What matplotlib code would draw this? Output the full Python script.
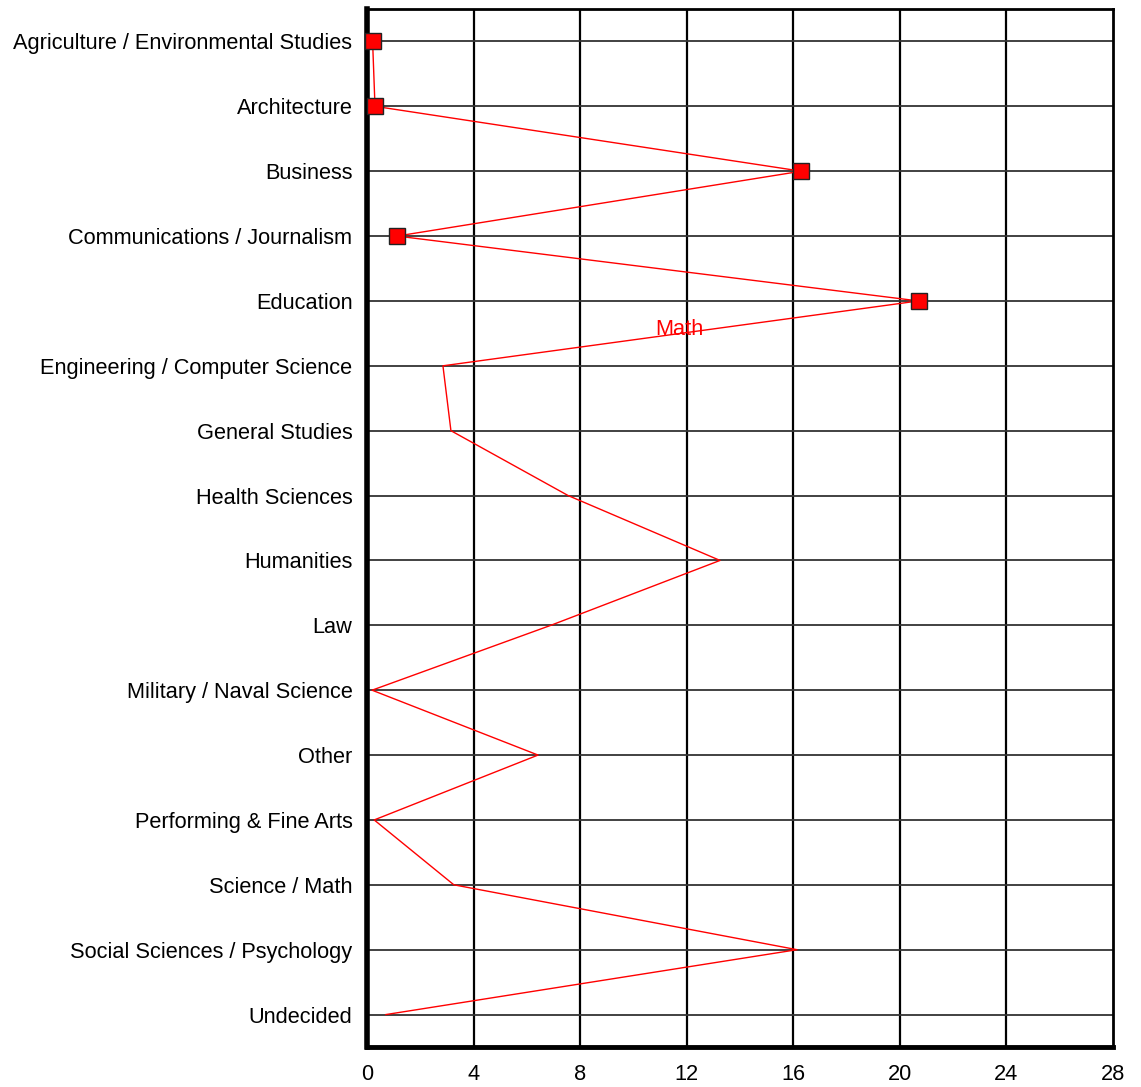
import matplotlib
matplotlib.use("Agg")
import matplotlib.pyplot as plt

categories = [
    "Agriculture / Environmental Studies",
    "Architecture",
    "Business",
    "Communications / Journalism",
    "Education",
    "Engineering / Computer Science",
    "General Studies",
    "Health Sciences",
    "Humanities",
    "Law",
    "Military / Naval Science",
    "Other",
    "Performing & Fine Arts",
    "Science / Math",
    "Social Sciences / Psychology",
    "Undecided",
]
math_values = [0.21, 0.3, 16.3, 1.13, 20.7, 2.85, 3.15, 7.55, 13.25, 6.9,
               0.19, 6.42, 0.27, 3.26, 16.14, 0.71]
x_ticks = [0, 4, 8, 12, 16, 20, 24, 28]
series_label = "Math"

plt.rcParams['font.family'] = ['Liberation Sans', 'DejaVu Sans']

fig = plt.figure(figsize=(11.41, 10.87), dpi=100)
ax = fig.add_axes([367/1141, 1 - 1047/1087, (1113 - 367)/1141, (1047 - 9)/1087])

ypos = list(range(len(categories)))
ax.plot(math_values, ypos, color='red', lw=1.0, marker='s', markersize=11.5,
        markerfacecolor='red', markeredgecolor='#222222', markeredgewidth=1.0,
        markevery=slice(0, 5), zorder=3, clip_on=False)

ax.set_xlim(0, 28)
ax.set_ylim(len(categories) - 0.5, -0.5)
ax.set_xticks(x_ticks)
ax.set_xticklabels([str(t) for t in x_ticks])
ax.set_yticks(ypos)
ax.set_yticklabels(categories)
ax.tick_params(axis='both', length=0, labelsize=15.7, colors='black')
ax.tick_params(axis='y', pad=10.5)
ax.tick_params(axis='x', pad=12.5)

for t in x_ticks[1:-1]:
    ax.axvline(t, color='black', lw=1.6, zorder=1)
for y in ypos:
    ax.axhline(y, color='#333333', lw=1.3, zorder=1)

ax.spines['left'].set_linewidth(4)
ax.spines['bottom'].set_linewidth(3.5)
ax.spines['top'].set_linewidth(2)
ax.spines['right'].set_linewidth(2)

ax.text(11.73, 4.44, series_label, color='red', fontsize=15.7, ha='center', va='center', zorder=4)

fig.savefig("out.png", dpi=100)
